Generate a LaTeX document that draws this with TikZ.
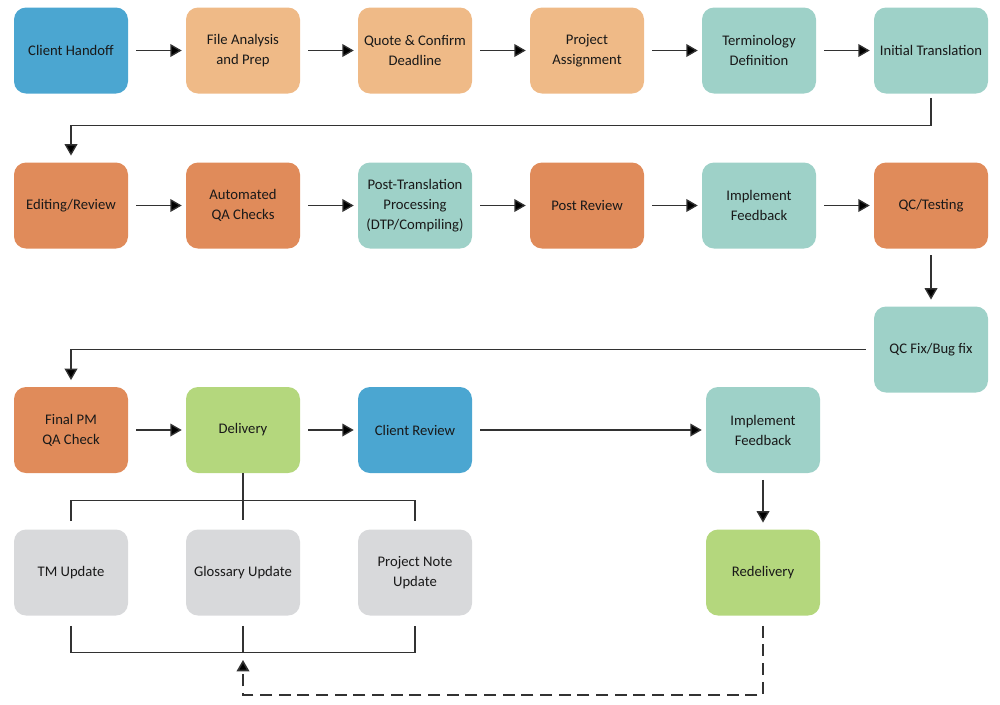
\documentclass[tikz,border=0pt]{standalone}
\usepackage{fontspec}
\setmainfont{Carlito}
\usepackage{tikz}
\usetikzlibrary{arrows.meta}

\definecolor{cblue}{RGB}{75,166,209}
\definecolor{lorange}{RGB}{239,186,135}
\definecolor{dorange}{RGB}{224,139,90}
\definecolor{cteal}{RGB}{158,209,200}
\definecolor{cgreen}{RGB}{180,215,125}
\definecolor{cgray}{RGB}{216,217,219}
\definecolor{cline}{RGB}{50,50,50}

\begin{document}
\begin{tikzpicture}[x=0.75pt,y=-0.75pt,
    box/.style={rounded corners=9pt,minimum width=85.5pt,minimum height=64.5pt,
        align=center,font=\fontsize{11}{15}\selectfont,text=black!90},
    link/.style={draw=cline,line width=1pt},
    arr/.style={link,-{Triangle[length=8.5pt,width=9.5pt,fill=black]}}]
\useasboundingbox (0,0) rectangle (1000,704);
\begin{scope}[every node/.style={box}]
    \node[fill=cblue]   (ch) at (71,50.5)  {Client Handoff};
    \node[fill=lorange] (fa) at (243,50.5) {File Analysis\\and Prep};
    \node[fill=lorange] (qd) at (415,50.5) {Quote \& Confirm\\Deadline};
    \node[fill=lorange] (pa) at (587,50.5) {Project\\Assignment};
    \node[fill=cteal]   (td) at (759,50.5) {Terminology\\Definition};
    \node[fill=cteal]   (it) at (931,50.5) {Initial Translation};

    \node[fill=dorange] (er) at (71,205.5)  {Editing/Review};
    \node[fill=dorange] (aq) at (243,205.5) {Automated\\QA Checks};
    \node[fill=cteal]   (pt) at (415,205.5) {Post-Translation\\Processing\\(DTP/Compiling)};
    \node[fill=dorange] (pr) at (587,205.5) {Post Review};
    \node[fill=cteal]   (ifa) at (759,205.5) {Implement\\Feedback};
    \node[fill=dorange] (qt) at (931,205.5) {QC/Testing};

    \node[fill=cteal]   (qf) at (931,349.5) {QC Fix/Bug fix};

    \node[fill=dorange] (fp) at (71,430)  {Final PM\\QA Check};
    \node[fill=cgreen]  (dl) at (243,430) {Delivery};
    \node[fill=cblue]   (cr) at (415,430) {Client Review};
    \node[fill=cteal]   (ifb) at (763,430) {Implement\\Feedback};

    \node[fill=cgray]   (tm) at (71,572.5)  {TM Update};
    \node[fill=cgray]   (gu) at (243,572.5) {Glossary Update};
    \node[fill=cgray]   (pn) at (415,572.5) {Project Note\\Update};
    \node[fill=cgreen]  (rd) at (763,572.5) {Redelivery};
\end{scope}
    % main flow
    \foreach \a/\b in {ch/fa,fa/qd,qd/pa,pa/td,td/it,er/aq,aq/pt,pt/pr,pr/ifa,ifa/qt,fp/dl,dl/cr,cr/ifb}
        \draw[arr,shorten <=6pt,shorten >=3pt] (\a) -- (\b);
    \draw[arr] ([yshift=-3pt]it.south) -- ++(0,28) -| ([yshift=5pt]er.north);
    \draw[arr] ([yshift=-5pt]qt.south) -- ([yshift=5pt]qf.north);
    \draw[arr] ([xshift=-6pt]qf.west) -| ([yshift=5pt]fp.north);
    \draw[arr] ([yshift=-5pt]ifb.south) -- ([yshift=5pt]rd.north);
    % updates after delivery
    \draw[link] (dl.south) -- ([yshift=7pt]gu.north);
    \draw[link] ([yshift=6pt]tm.north) -- ++(0,-21) -| ([yshift=6pt]pn.north);
    \draw[link] ([yshift=-7.5pt]tm.south) -- ++(0,27) -| ([yshift=-7.5pt]pn.south);
    \draw[link] ([yshift=-7.5pt]gu.south) -- ++(0,27);
    \coordinate (back) at (243,660);
    \draw[arr,line width=1.2pt,dash pattern=on 9pt off 5pt] ([yshift=-7.5pt]rd.south) -- ++(0,69) -| (back);
\end{tikzpicture}
\end{document}
